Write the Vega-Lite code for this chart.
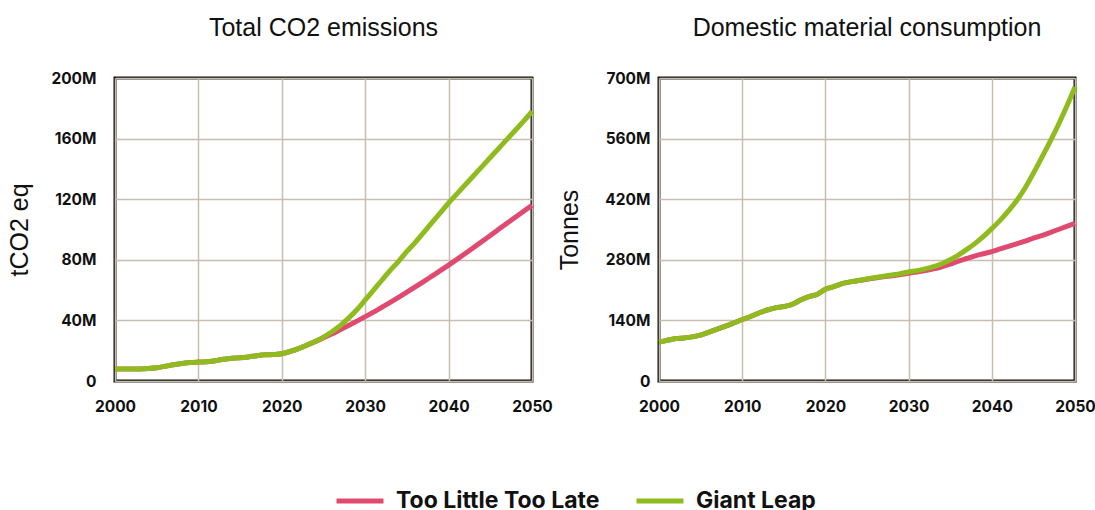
{
  "$schema": "https://vega.github.io/schema/vega-lite/v6.json",
  "background": "white",
  "padding": {"left": 6, "top": 14, "right": 10, "bottom": 0},
  "spacing": 127,
  "bounds": "flush",
  "datasets": {
    "co2": [
      {"year": 2000, "scenario": "Too Little Too Late", "value": 8.0},
      {"year": 2001, "scenario": "Too Little Too Late", "value": 7.9},
      {"year": 2002, "scenario": "Too Little Too Late", "value": 7.9},
      {"year": 2003, "scenario": "Too Little Too Late", "value": 8.0},
      {"year": 2004, "scenario": "Too Little Too Late", "value": 8.3},
      {"year": 2005, "scenario": "Too Little Too Late", "value": 8.8},
      {"year": 2006, "scenario": "Too Little Too Late", "value": 9.7},
      {"year": 2007, "scenario": "Too Little Too Late", "value": 10.7},
      {"year": 2008, "scenario": "Too Little Too Late", "value": 11.5},
      {"year": 2009, "scenario": "Too Little Too Late", "value": 12.2},
      {"year": 2010, "scenario": "Too Little Too Late", "value": 12.5},
      {"year": 2011, "scenario": "Too Little Too Late", "value": 12.7},
      {"year": 2012, "scenario": "Too Little Too Late", "value": 13.4},
      {"year": 2013, "scenario": "Too Little Too Late", "value": 14.3},
      {"year": 2014, "scenario": "Too Little Too Late", "value": 15.0},
      {"year": 2015, "scenario": "Too Little Too Late", "value": 15.3},
      {"year": 2016, "scenario": "Too Little Too Late", "value": 15.9},
      {"year": 2017, "scenario": "Too Little Too Late", "value": 16.7},
      {"year": 2018, "scenario": "Too Little Too Late", "value": 17.3},
      {"year": 2019, "scenario": "Too Little Too Late", "value": 17.5},
      {"year": 2020, "scenario": "Too Little Too Late", "value": 18.0},
      {"year": 2021, "scenario": "Too Little Too Late", "value": 19.5},
      {"year": 2022, "scenario": "Too Little Too Late", "value": 21.4},
      {"year": 2023, "scenario": "Too Little Too Late", "value": 23.6},
      {"year": 2024, "scenario": "Too Little Too Late", "value": 26.0},
      {"year": 2025, "scenario": "Too Little Too Late", "value": 28.5},
      {"year": 2026, "scenario": "Too Little Too Late", "value": 31.0},
      {"year": 2027, "scenario": "Too Little Too Late", "value": 33.8},
      {"year": 2028, "scenario": "Too Little Too Late", "value": 36.6},
      {"year": 2029, "scenario": "Too Little Too Late", "value": 39.5},
      {"year": 2030, "scenario": "Too Little Too Late", "value": 42.5},
      {"year": 2031, "scenario": "Too Little Too Late", "value": 45.5},
      {"year": 2032, "scenario": "Too Little Too Late", "value": 48.7},
      {"year": 2033, "scenario": "Too Little Too Late", "value": 51.9},
      {"year": 2034, "scenario": "Too Little Too Late", "value": 55.2},
      {"year": 2035, "scenario": "Too Little Too Late", "value": 58.6},
      {"year": 2036, "scenario": "Too Little Too Late", "value": 62.1},
      {"year": 2037, "scenario": "Too Little Too Late", "value": 65.6},
      {"year": 2038, "scenario": "Too Little Too Late", "value": 69.2},
      {"year": 2039, "scenario": "Too Little Too Late", "value": 72.8},
      {"year": 2040, "scenario": "Too Little Too Late", "value": 76.5},
      {"year": 2041, "scenario": "Too Little Too Late", "value": 80.3},
      {"year": 2042, "scenario": "Too Little Too Late", "value": 84.2},
      {"year": 2043, "scenario": "Too Little Too Late", "value": 88.1},
      {"year": 2044, "scenario": "Too Little Too Late", "value": 92.1},
      {"year": 2045, "scenario": "Too Little Too Late", "value": 96.1},
      {"year": 2046, "scenario": "Too Little Too Late", "value": 100.1},
      {"year": 2047, "scenario": "Too Little Too Late", "value": 104.1},
      {"year": 2048, "scenario": "Too Little Too Late", "value": 108.1},
      {"year": 2049, "scenario": "Too Little Too Late", "value": 112.1},
      {"year": 2050, "scenario": "Too Little Too Late", "value": 116.0},
      {"year": 2000, "scenario": "Giant Leap", "value": 8.0},
      {"year": 2001, "scenario": "Giant Leap", "value": 7.9},
      {"year": 2002, "scenario": "Giant Leap", "value": 7.9},
      {"year": 2003, "scenario": "Giant Leap", "value": 8.0},
      {"year": 2004, "scenario": "Giant Leap", "value": 8.3},
      {"year": 2005, "scenario": "Giant Leap", "value": 8.8},
      {"year": 2006, "scenario": "Giant Leap", "value": 9.7},
      {"year": 2007, "scenario": "Giant Leap", "value": 10.7},
      {"year": 2008, "scenario": "Giant Leap", "value": 11.5},
      {"year": 2009, "scenario": "Giant Leap", "value": 12.2},
      {"year": 2010, "scenario": "Giant Leap", "value": 12.5},
      {"year": 2011, "scenario": "Giant Leap", "value": 12.7},
      {"year": 2012, "scenario": "Giant Leap", "value": 13.4},
      {"year": 2013, "scenario": "Giant Leap", "value": 14.3},
      {"year": 2014, "scenario": "Giant Leap", "value": 15.0},
      {"year": 2015, "scenario": "Giant Leap", "value": 15.3},
      {"year": 2016, "scenario": "Giant Leap", "value": 15.9},
      {"year": 2017, "scenario": "Giant Leap", "value": 16.7},
      {"year": 2018, "scenario": "Giant Leap", "value": 17.3},
      {"year": 2019, "scenario": "Giant Leap", "value": 17.5},
      {"year": 2020, "scenario": "Giant Leap", "value": 18.0},
      {"year": 2021, "scenario": "Giant Leap", "value": 19.5},
      {"year": 2022, "scenario": "Giant Leap", "value": 21.4},
      {"year": 2023, "scenario": "Giant Leap", "value": 23.6},
      {"year": 2024, "scenario": "Giant Leap", "value": 26.0},
      {"year": 2025, "scenario": "Giant Leap", "value": 29.0},
      {"year": 2026, "scenario": "Giant Leap", "value": 32.5},
      {"year": 2027, "scenario": "Giant Leap", "value": 36.5},
      {"year": 2028, "scenario": "Giant Leap", "value": 41.5},
      {"year": 2029, "scenario": "Giant Leap", "value": 47.0},
      {"year": 2030, "scenario": "Giant Leap", "value": 53.5},
      {"year": 2031, "scenario": "Giant Leap", "value": 60.0},
      {"year": 2032, "scenario": "Giant Leap", "value": 66.5},
      {"year": 2033, "scenario": "Giant Leap", "value": 73.0},
      {"year": 2034, "scenario": "Giant Leap", "value": 79.0},
      {"year": 2035, "scenario": "Giant Leap", "value": 85.5},
      {"year": 2036, "scenario": "Giant Leap", "value": 91.5},
      {"year": 2037, "scenario": "Giant Leap", "value": 98.0},
      {"year": 2038, "scenario": "Giant Leap", "value": 104.5},
      {"year": 2039, "scenario": "Giant Leap", "value": 111.0},
      {"year": 2040, "scenario": "Giant Leap", "value": 117.5},
      {"year": 2041, "scenario": "Giant Leap", "value": 123.5},
      {"year": 2042, "scenario": "Giant Leap", "value": 129.5},
      {"year": 2043, "scenario": "Giant Leap", "value": 135.5},
      {"year": 2044, "scenario": "Giant Leap", "value": 141.5},
      {"year": 2045, "scenario": "Giant Leap", "value": 147.5},
      {"year": 2046, "scenario": "Giant Leap", "value": 153.5},
      {"year": 2047, "scenario": "Giant Leap", "value": 159.5},
      {"year": 2048, "scenario": "Giant Leap", "value": 165.5},
      {"year": 2049, "scenario": "Giant Leap", "value": 171.5},
      {"year": 2050, "scenario": "Giant Leap", "value": 178.0}
    ],
    "dmc": [
      {"year": 2000, "scenario": "Too Little Too Late", "value": 90},
      {"year": 2001, "scenario": "Too Little Too Late", "value": 94},
      {"year": 2002, "scenario": "Too Little Too Late", "value": 98},
      {"year": 2003, "scenario": "Too Little Too Late", "value": 99.5},
      {"year": 2004, "scenario": "Too Little Too Late", "value": 102},
      {"year": 2005, "scenario": "Too Little Too Late", "value": 106},
      {"year": 2006, "scenario": "Too Little Too Late", "value": 113},
      {"year": 2007, "scenario": "Too Little Too Late", "value": 120},
      {"year": 2008, "scenario": "Too Little Too Late", "value": 127},
      {"year": 2009, "scenario": "Too Little Too Late", "value": 134},
      {"year": 2010, "scenario": "Too Little Too Late", "value": 142},
      {"year": 2011, "scenario": "Too Little Too Late", "value": 149},
      {"year": 2012, "scenario": "Too Little Too Late", "value": 157},
      {"year": 2013, "scenario": "Too Little Too Late", "value": 164},
      {"year": 2014, "scenario": "Too Little Too Late", "value": 169},
      {"year": 2015, "scenario": "Too Little Too Late", "value": 172},
      {"year": 2016, "scenario": "Too Little Too Late", "value": 177},
      {"year": 2017, "scenario": "Too Little Too Late", "value": 187},
      {"year": 2018, "scenario": "Too Little Too Late", "value": 195},
      {"year": 2019, "scenario": "Too Little Too Late", "value": 200},
      {"year": 2020, "scenario": "Too Little Too Late", "value": 212},
      {"year": 2021, "scenario": "Too Little Too Late", "value": 218},
      {"year": 2022, "scenario": "Too Little Too Late", "value": 225},
      {"year": 2023, "scenario": "Too Little Too Late", "value": 229},
      {"year": 2024, "scenario": "Too Little Too Late", "value": 232},
      {"year": 2025, "scenario": "Too Little Too Late", "value": 235},
      {"year": 2026, "scenario": "Too Little Too Late", "value": 238},
      {"year": 2027, "scenario": "Too Little Too Late", "value": 241},
      {"year": 2028, "scenario": "Too Little Too Late", "value": 243},
      {"year": 2029, "scenario": "Too Little Too Late", "value": 246},
      {"year": 2030, "scenario": "Too Little Too Late", "value": 249},
      {"year": 2031, "scenario": "Too Little Too Late", "value": 252},
      {"year": 2032, "scenario": "Too Little Too Late", "value": 255},
      {"year": 2033, "scenario": "Too Little Too Late", "value": 259},
      {"year": 2034, "scenario": "Too Little Too Late", "value": 264},
      {"year": 2035, "scenario": "Too Little Too Late", "value": 270},
      {"year": 2036, "scenario": "Too Little Too Late", "value": 277},
      {"year": 2037, "scenario": "Too Little Too Late", "value": 283},
      {"year": 2038, "scenario": "Too Little Too Late", "value": 289},
      {"year": 2039, "scenario": "Too Little Too Late", "value": 294},
      {"year": 2040, "scenario": "Too Little Too Late", "value": 299},
      {"year": 2041, "scenario": "Too Little Too Late", "value": 305},
      {"year": 2042, "scenario": "Too Little Too Late", "value": 311},
      {"year": 2043, "scenario": "Too Little Too Late", "value": 317},
      {"year": 2044, "scenario": "Too Little Too Late", "value": 323},
      {"year": 2045, "scenario": "Too Little Too Late", "value": 330},
      {"year": 2046, "scenario": "Too Little Too Late", "value": 336},
      {"year": 2047, "scenario": "Too Little Too Late", "value": 343},
      {"year": 2048, "scenario": "Too Little Too Late", "value": 350},
      {"year": 2049, "scenario": "Too Little Too Late", "value": 357},
      {"year": 2050, "scenario": "Too Little Too Late", "value": 364},
      {"year": 2000, "scenario": "Giant Leap", "value": 90},
      {"year": 2001, "scenario": "Giant Leap", "value": 94},
      {"year": 2002, "scenario": "Giant Leap", "value": 98},
      {"year": 2003, "scenario": "Giant Leap", "value": 99.5},
      {"year": 2004, "scenario": "Giant Leap", "value": 102},
      {"year": 2005, "scenario": "Giant Leap", "value": 106},
      {"year": 2006, "scenario": "Giant Leap", "value": 113},
      {"year": 2007, "scenario": "Giant Leap", "value": 120},
      {"year": 2008, "scenario": "Giant Leap", "value": 127},
      {"year": 2009, "scenario": "Giant Leap", "value": 134},
      {"year": 2010, "scenario": "Giant Leap", "value": 142},
      {"year": 2011, "scenario": "Giant Leap", "value": 149},
      {"year": 2012, "scenario": "Giant Leap", "value": 157},
      {"year": 2013, "scenario": "Giant Leap", "value": 164},
      {"year": 2014, "scenario": "Giant Leap", "value": 169},
      {"year": 2015, "scenario": "Giant Leap", "value": 172},
      {"year": 2016, "scenario": "Giant Leap", "value": 177},
      {"year": 2017, "scenario": "Giant Leap", "value": 187},
      {"year": 2018, "scenario": "Giant Leap", "value": 195},
      {"year": 2019, "scenario": "Giant Leap", "value": 200},
      {"year": 2020, "scenario": "Giant Leap", "value": 212},
      {"year": 2021, "scenario": "Giant Leap", "value": 218},
      {"year": 2022, "scenario": "Giant Leap", "value": 225},
      {"year": 2023, "scenario": "Giant Leap", "value": 229},
      {"year": 2024, "scenario": "Giant Leap", "value": 232},
      {"year": 2025, "scenario": "Giant Leap", "value": 236},
      {"year": 2026, "scenario": "Giant Leap", "value": 239},
      {"year": 2027, "scenario": "Giant Leap", "value": 242},
      {"year": 2028, "scenario": "Giant Leap", "value": 245},
      {"year": 2029, "scenario": "Giant Leap", "value": 248},
      {"year": 2030, "scenario": "Giant Leap", "value": 252},
      {"year": 2031, "scenario": "Giant Leap", "value": 255},
      {"year": 2032, "scenario": "Giant Leap", "value": 259},
      {"year": 2033, "scenario": "Giant Leap", "value": 264},
      {"year": 2034, "scenario": "Giant Leap", "value": 271},
      {"year": 2035, "scenario": "Giant Leap", "value": 280},
      {"year": 2036, "scenario": "Giant Leap", "value": 291},
      {"year": 2037, "scenario": "Giant Leap", "value": 304},
      {"year": 2038, "scenario": "Giant Leap", "value": 318},
      {"year": 2039, "scenario": "Giant Leap", "value": 334},
      {"year": 2040, "scenario": "Giant Leap", "value": 352},
      {"year": 2041, "scenario": "Giant Leap", "value": 371},
      {"year": 2042, "scenario": "Giant Leap", "value": 393},
      {"year": 2043, "scenario": "Giant Leap", "value": 417},
      {"year": 2044, "scenario": "Giant Leap", "value": 446},
      {"year": 2045, "scenario": "Giant Leap", "value": 480},
      {"year": 2046, "scenario": "Giant Leap", "value": 516},
      {"year": 2047, "scenario": "Giant Leap", "value": 553},
      {"year": 2048, "scenario": "Giant Leap", "value": 592},
      {"year": 2049, "scenario": "Giant Leap", "value": 634},
      {"year": 2050, "scenario": "Giant Leap", "value": 679}
    ]
  },
  "config": {
    "view": {"stroke": "#111111", "strokeWidth": 3},
    "axis": {
      "gridColor": "#c7bdae",
      "gridWidth": 1.5,
      "gridOpacity": 1,
      "ticks": false,
      "domain": false,
      "labelFont": "Inter",
      "labelFontWeight": "bold",
      "labelFontSize": 15.5,
      "labelColor": "#111111",
      "labelFlush": false,
      "labelOverlap": false,
      "labelBound": false,
      "titleFont": "Liberation Sans",
      "titleFontWeight": "normal",
      "titleFontSize": 25,
      "titleColor": "#111111"
    },
    "title": {
      "font": "Liberation Sans",
      "fontSize": 25,
      "fontWeight": "normal",
      "color": "#111111",
      "anchor": "middle",
      "offset": 30
    },
    "legend": {
      "orient": "none",
      "direction": "horizontal",
      "legendX": 219,
      "legendY": 397,
      "title": null,
      "symbolType": "stroke",
      "symbolSize": 2209,
      "symbolStrokeWidth": 5,
      "labelFont": "Inter",
      "labelFontWeight": "bold",
      "labelFontSize": 23,
      "labelColor": "#111111",
      "labelOffset": 10,
      "columnPadding": 26,
      "labelLimit": 400
    }
  },
  "hconcat": [
    {
      "width": 417,
      "height": 303,
      "title": "Total CO2 emissions",
      "data": {"name": "co2"},
      "encoding": {
        "x": {
          "field": "year",
          "type": "quantitative",
          "scale": {"domain": [2000, 2050], "nice": false},
          "axis": {"title": null, "values": [2000, 2010, 2020, 2030, 2040, 2050], "format": "d", "labelPadding": 18}
        },
        "y": {
          "field": "value",
          "type": "quantitative",
          "scale": {"domain": [0, 200], "nice": false},
          "axis": {
            "title": "tCO2 eq",
            "values": [0, 40, 80, 120, 160, 200],
            "labelExpr": "datum.value == 0 ? '0' : datum.value + 'M'",
            "labelPadding": 19,
            "titlePadding": 18
          }
        },
        "color": {
          "field": "scenario",
          "type": "nominal",
          "scale": {"domain": ["Too Little Too Late", "Giant Leap"], "range": ["#e04a70", "#8fbb1f"]},
          "sort": ["Too Little Too Late", "Giant Leap"]
        }
      },
      "layer": [
        {
          "transform": [{"filter": "datum.scenario == 'Too Little Too Late'"}],
          "mark": {"type": "line", "strokeWidth": 5, "interpolate": "monotone"}
        },
        {
          "transform": [{"filter": "datum.scenario == 'Giant Leap'"}],
          "mark": {"type": "line", "strokeWidth": 5, "interpolate": "monotone"}
        }
      ]
    },
    {
      "width": 416,
      "height": 303,
      "title": "Domestic material consumption",
      "data": {"name": "dmc"},
      "encoding": {
        "x": {
          "field": "year",
          "type": "quantitative",
          "scale": {"domain": [2000, 2050], "nice": false},
          "axis": {"title": null, "values": [2000, 2010, 2020, 2030, 2040, 2050], "format": "d", "labelPadding": 18}
        },
        "y": {
          "field": "value",
          "type": "quantitative",
          "scale": {"domain": [0, 700], "nice": false},
          "axis": {
            "title": "Tonnes",
            "values": [0, 140, 280, 420, 560, 700],
            "labelExpr": "datum.value == 0 ? '0' : datum.value + 'M'",
            "labelPadding": 9,
            "titlePadding": 22
          }
        },
        "color": {
          "field": "scenario",
          "type": "nominal",
          "scale": {"domain": ["Too Little Too Late", "Giant Leap"], "range": ["#e04a70", "#8fbb1f"]},
          "sort": ["Too Little Too Late", "Giant Leap"]
        }
      },
      "layer": [
        {
          "transform": [{"filter": "datum.scenario == 'Too Little Too Late'"}],
          "mark": {"type": "line", "strokeWidth": 5, "interpolate": "monotone"}
        },
        {
          "transform": [{"filter": "datum.scenario == 'Giant Leap'"}],
          "mark": {"type": "line", "strokeWidth": 5, "interpolate": "monotone"}
        }
      ]
    }
  ]
}
